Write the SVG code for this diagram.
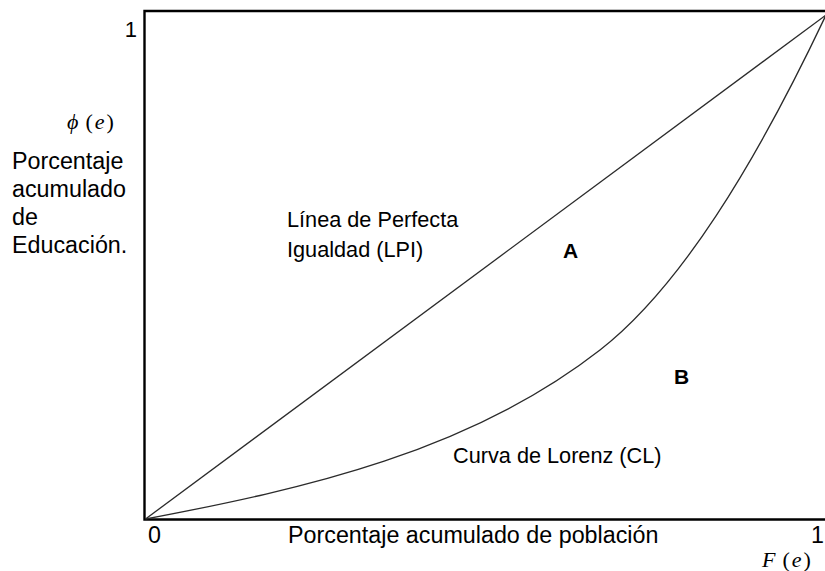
<svg xmlns="http://www.w3.org/2000/svg" width="825" height="571" viewBox="0 0 825 571">
<style>
.t{font-family:"Liberation Sans",Arial,sans-serif;fill:#000}
.big{font-size:23.3px}
.mid{font-size:21.7px}
.bold{font-size:21px;font-weight:bold}
.m{font-family:"Liberation Serif","Times New Roman",serif;font-size:22px;fill:#000}
.i{font-style:italic}
.curve{fill:none;stroke:#2b2b2b;stroke-width:1.3}
.frame{fill:none;stroke:#000;stroke-width:2.4}
</style>
<rect width="825" height="571" fill="#fff"/>
<g id="frame">
<path class="frame" d="M 827 11 H 144.5 V 519.5 H 827"/>
</g>
<g id="connectors">
<path id="lpi" class="curve" d="M 145.5 519 L 826 15"/>
<path id="cl" class="curve" d="M 145.5 519 C 306 488.6 470 451.4 600 350 C 680 287.6 755 165 826 15"/>
</g>
<g id="y-axis-labels">
<text class="t" x="137" y="37" font-size="22" text-anchor="end">1</text>
<text class="m" x="67" y="129"><tspan class="i">ϕ</tspan><tspan dx="7">(</tspan><tspan class="i" dx="2">e</tspan><tspan dx="2">)</tspan></text>
<text class="t big" x="12" y="169">Porcentaje</text>
<text class="t big" x="12" y="197">acumulado</text>
<text class="t big" x="12" y="225">de</text>
<text class="t big" x="12" y="253">Educación.</text>
</g>
<g id="x-axis-labels">
<text class="t big" x="148" y="543">0</text>
<text class="t big" x="288" y="543">Porcentaje acumulado de población</text>
<text class="t big" x="811" y="543">1</text>
<text class="m" x="762" y="567"><tspan class="i">F</tspan><tspan dx="7">(</tspan><tspan class="i" dx="2">e</tspan><tspan dx="2">)</tspan></text>
</g>
<g id="label-lpi">
<text class="t mid" x="287" y="227">Línea de Perfecta</text>
<text class="t mid" x="287" y="257">Igualdad (LPI)</text>
</g>
<g id="label-cl">
<text class="t mid" x="453" y="463">Curva de Lorenz (CL)</text>
</g>
<g id="area-a"><text class="t bold" x="563" y="258">A</text></g>
<g id="area-b"><text class="t bold" x="674" y="384">B</text></g>
</svg>
